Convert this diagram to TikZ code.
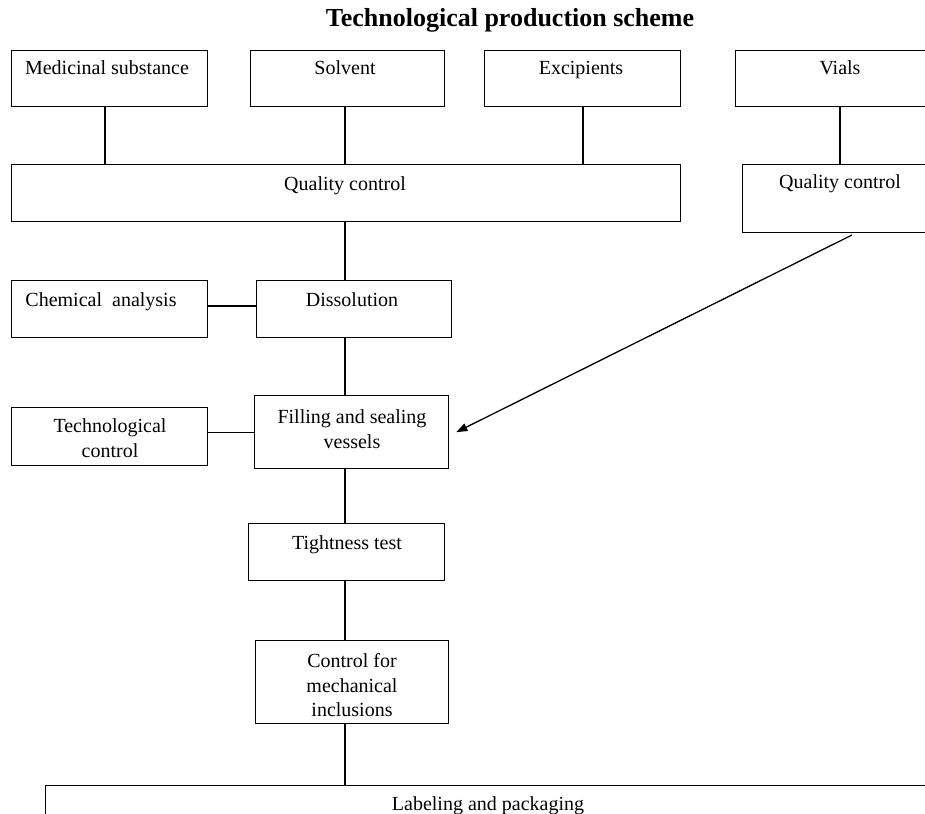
\documentclass[tikz,border=0pt]{standalone}
\usepackage{fontspec}
\setmainfont{Liberation Serif}
\usetikzlibrary{arrows.meta}
\begin{document}
\begin{tikzpicture}[x=1pt,y=-1pt, line width=1.3pt,
 box/.style={draw, rectangle, inner sep=0pt, anchor=north west},
 txt/.style={anchor=base, inner sep=0pt, font=\fontsize{20}{25}\selectfont, align=center},
 ttl/.style={anchor=base, inner sep=0pt, font=\bfseries\fontsize{26}{30}\selectfont},
 link/.style={draw},
 arr/.style={-{Triangle[length=11pt,width=8pt]}}]
\useasboundingbox (0,0) rectangle (925,813);
\clip (0,0) rectangle (925,813);
% boxes
\node[box, minimum width=196, minimum height=56] (med) at (11,50) {};
\node[box, minimum width=194, minimum height=56] (solv) at (250,50) {};
\node[box, minimum width=196, minimum height=56] (exc) at (484,50) {};
\node[box, minimum width=220, minimum height=56] (vials) at (735,50) {};
\node[box, minimum width=669, minimum height=57] (qc) at (11,164) {};
\node[box, minimum width=210, minimum height=68] (qcr) at (742,164) {};
\node[box, minimum width=196, minimum height=57] (chem) at (11,280) {};
\node[box, minimum width=195, minimum height=57] (diss) at (256,280) {};
\node[box, minimum width=196, minimum height=58] (tech) at (11,407) {};
\node[box, minimum width=194, minimum height=73] (fill) at (254,395) {};
\node[box, minimum width=196, minimum height=57] (tight) at (248,523) {};
\node[box, minimum width=193, minimum height=83] (mech) at (255,640) {};
\node[box, minimum width=920, minimum height=60] (lab) at (45,785) {};
% texts
\node[ttl] (title) at (510,27) {Technological production scheme};
\node[txt] (tmed) at (107,75) {Medicinal substance};
\node[txt] (tsolv) at (345,75) {Solvent};
\node[txt] (texc) at (581,75) {Excipients};
\node[txt] (tvials) at (840,75) {Vials};
\node[txt] (tqc) at (345,190) {Quality control};
\node[txt] (tqcr) at (840,189) {Quality control};
\node[txt] (tchem) at (101,306) {Chemical\ \ analysis};
\node[txt] (tdiss) at (352,306) {Dissolution};
\node[txt] (ttech1) at (110,432) {Technological};
\node[txt] (ttech2) at (110,457) {control};
\node[txt] (tfill1) at (352,423) {Filling and sealing};
\node[txt] (tfill2) at (352,448) {vessels};
\node[txt] (ttight) at (347,549) {Tightness test};
\node[txt] (tmech1) at (352,667) {Control for};
\node[txt] (tmech2) at (352,692) {mechanical};
\node[txt] (tmech3) at (352,716) {inclusions};
\node[txt] (tlab) at (488,810) {Labeling and packaging};
% connectors
\coordinate (cm) at (105,0);
\coordinate (cs) at (345,0);
\coordinate (ce) at (583,0);
\coordinate (cv) at (840,0);
\coordinate (ch) at (0,306);
\draw[link] (med.south -| cm) -- (qc.north -| cm);
\draw[link] (solv.south -| cs) -- (qc.north -| cs);
\draw[link] (exc.south -| ce) -- (qc.north -| ce);
\draw[link] (vials.south -| cv) -- (qcr.north -| cv);
\draw[link] (qc.south -| cs) -- (diss.north -| cs);
\draw[link] (chem.east |- ch) -- (diss.west |- ch);
\draw[link] (diss.south -| cs) -- (fill.north -| cs);
\draw[link] (fill.west) -- (fill.west -| tech.east);
\draw[link] (fill.south -| cs) -- (tight.north -| cs);
\draw[link] (tight.south -| cs) -- (mech.north -| cs);
\draw[link] (mech.south -| cs) -- (lab.north -| cs);
\coordinate (as) at (852,235);
\draw[arr] (as) -- ([xshift=7]fill.east);
\end{tikzpicture}
\end{document}
